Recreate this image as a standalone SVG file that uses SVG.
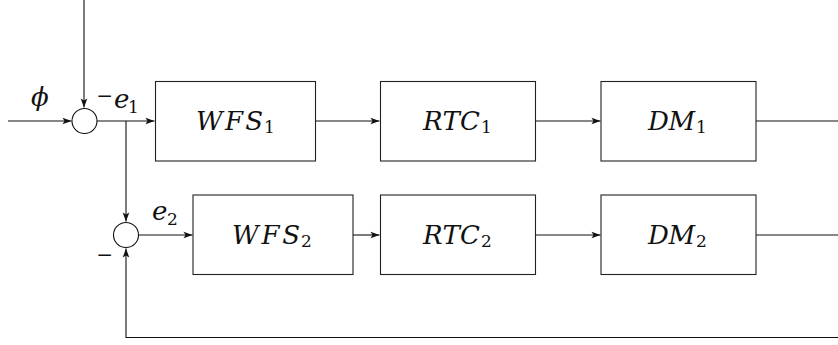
<svg xmlns="http://www.w3.org/2000/svg" width="838" height="345" viewBox="0 0 838 345">
  <style>
    .box { fill: #fff; stroke: #222; stroke-width: 1.1; }
    .sum { fill: #fff; stroke: #111; stroke-width: 1.1; }
    .wire { fill: none; stroke: #111; stroke-width: 1.1; }
    .math { font-family: "DejaVu Serif", "Liberation Serif", serif; font-style: italic; font-size: 26px; fill: #111; }
    .sub { font-family: "DejaVu Serif", "Liberation Serif", serif; font-size: 17px; fill: #111; }
    .op { font-family: "Liberation Serif", "DejaVu Serif", serif; font-size: 27px; fill: #111; }
    .cap { font-family: "DejaVu Serif", "Liberation Serif", serif; font-size: 19px; fill: #111; }
  </style>
  <defs>
    <marker id="arr" markerUnits="userSpaceOnUse" markerWidth="12" markerHeight="10" refX="0" refY="0" viewBox="-10 -5 12 10" orient="auto">
      <path d="M0,0 L-9,-3.3 L-7,0 L-9,3.3 Z" fill="#111"/>
    </marker>
  </defs>

  <!-- connectors -->
  <g id="connectors">
    <!-- reference input from above into first summing junction -->
    <path class="wire" d="M84,0 V107.5" marker-end="url(#arr)"/>
    <!-- phi input -->
    <path class="wire" d="M8,121 H71.5" marker-end="url(#arr)"/>
    <!-- e1 into WFS1 -->
    <path class="wire" d="M97,121 H154.5" marker-end="url(#arr)"/>
    <!-- branch down to second summing junction -->
    <path class="wire" d="M126,121 V221.5" marker-end="url(#arr)"/>
    <!-- upper chain -->
    <path class="wire" d="M316,121 H379.5" marker-end="url(#arr)"/>
    <path class="wire" d="M535,121 H600.5" marker-end="url(#arr)"/>
    <path class="wire" d="M756,121 H838"/>
    <!-- e2 into WFS2 -->
    <path class="wire" d="M139,235 H192.5" marker-end="url(#arr)"/>
    <!-- lower chain -->
    <path class="wire" d="M353,235 H379.5" marker-end="url(#arr)"/>
    <path class="wire" d="M535,235 H600.5" marker-end="url(#arr)"/>
    <path class="wire" d="M756,235 H838"/>
    <!-- feedback path -->
    <path class="wire" d="M838,337.5 H126 V248.5" marker-end="url(#arr)"/>
  </g>

  <!-- summing junctions -->
  <g id="sum1">
    <circle class="sum" cx="84.5" cy="121" r="12.5"/>
    <text class="math" x="31" y="106">ϕ</text>
    <text class="op" x="97" y="105">−</text>
    <text class="math" x="114" y="108">e</text>
    <text class="sub" x="128" y="113">1</text>
  </g>
  <g id="sum2">
    <circle class="sum" cx="126" cy="235" r="12.5"/>
    <text class="math" x="152" y="220">e</text>
    <text class="sub" x="167" y="225">2</text>
    <text class="op" x="97" y="264">−</text>
  </g>

  <!-- upper row -->
  <g id="wfs1">
    <rect class="box" x="155.5" y="81.5" width="160" height="79.5"/>
    <text class="math" x="196" y="130" textLength="67" lengthAdjust="spacing">WFS</text>
    <text class="sub" x="264" y="133">1</text>
  </g>
  <g id="rtc1">
    <rect class="box" x="380.5" y="81.5" width="155" height="79.5"/>
    <text class="math" x="423" y="130" textLength="57" lengthAdjust="spacing">RTC</text>
    <text class="sub" x="481" y="133">1</text>
  </g>
  <g id="dm1">
    <rect class="box" x="601" y="81.5" width="155" height="79.5"/>
    <text class="math" x="648" y="130" textLength="47" lengthAdjust="spacing">DM</text>
    <text class="sub" x="696" y="133">1</text>
  </g>

  <!-- lower row -->
  <g id="wfs2">
    <rect class="box" x="193" y="195" width="160" height="79.5"/>
    <text class="math" x="232" y="244" textLength="68" lengthAdjust="spacing">WFS</text>
    <text class="sub" x="301" y="247">2</text>
  </g>
  <g id="rtc2">
    <rect class="box" x="380.5" y="195" width="155" height="79.5"/>
    <text class="math" x="423" y="244" textLength="57" lengthAdjust="spacing">RTC</text>
    <text class="sub" x="481" y="247">2</text>
  </g>
  <g id="dm2">
    <rect class="box" x="601" y="195" width="155" height="79.5"/>
    <text class="math" x="648" y="244" textLength="47" lengthAdjust="spacing">DM</text>
    <text class="sub" x="696" y="247">2</text>
  </g>

  <!-- caption, running off the lower edge -->
  <text class="cap" x="117" y="359.5" textLength="568" lengthAdjust="spacing">Figure 3: Second-stage cascaded closed-loop block diagram</text>
</svg>
